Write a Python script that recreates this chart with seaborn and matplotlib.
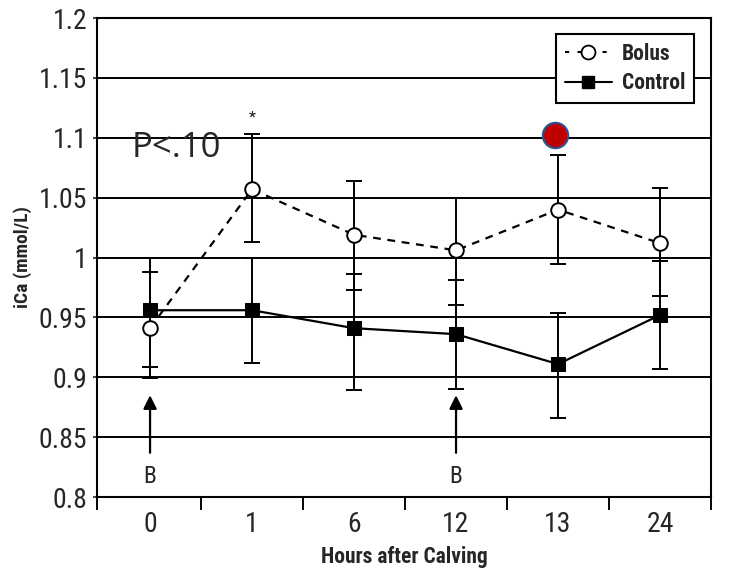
import matplotlib
matplotlib.use("Agg")
import matplotlib.pyplot as plt
from matplotlib.lines import Line2D
from matplotlib import font_manager
import seaborn as sns
import pandas as pd
import numpy as np

# ---- data ----
hours = ["0", "1", "6", "12", "13", "24"]
bolus_mean = [0.941, 1.057, 1.019, 1.006, 1.040, 1.012]
bolus_upper = [0.988, 1.103, 1.064, 1.050, 1.086, 1.058]
bolus_lower = [0.899, 1.013, 0.973, 0.960, 0.995, 0.968]
control_mean = [0.956, 0.956, 0.941, 0.936, 0.911, 0.952]
control_upper = [1.000, 1.000, 0.986, 0.981, 0.954, 0.997]
control_lower = [0.909, 0.912, 0.889, 0.890, 0.866, 0.907]
yticks = [0.8, 0.85, 0.9, 0.95, 1.0, 1.05, 1.1, 1.15, 1.2]
ytick_labels = ["0.8", "0.85", "0.9", "0.95", "1", "1.05", "1.1", "1.15", "1.2"]
bolus_hours = ["0", "12"]
star_hour = "1"
star_value = 1.117
red_hour = "13"
red_value = 1.102

sns.set_style("ticks")
installed = {f.name for f in font_manager.fontManager.ttflist}
cands = ["Liberation Sans Narrow", "DejaVu Sans Condensed", "Roboto Condensed",
         "Arial Narrow", "Roboto", "DejaVu Sans"]
NARROW = [c for c in cands if c in installed] or ["DejaVu Sans"]
plt.rcParams["font.family"] = NARROW + ["DejaVu Sans"]
narrow_is_real = NARROW[0] in ("Liberation Sans Narrow", "DejaVu Sans Condensed",
                               "Roboto Condensed", "Arial Narrow")
scale = 1.0 if narrow_is_real else 0.85

pos = np.arange(len(hours))
df = pd.DataFrame({
    "pos": np.concatenate([pos, pos]),
    "value": bolus_mean + control_mean,
    "group": ["Bolus"] * len(hours) + ["Control"] * len(hours),
})

fig = plt.figure(figsize=(7.3, 5.7), dpi=100)
ax = fig.add_axes([0.1329, 0.128, 0.974 - 0.1329, 0.9684 - 0.128])

for v in yticks[1:-1]:
    ax.axhline(v, color="black", lw=1.4, zorder=1)

ax.errorbar(pos, bolus_mean,
            yerr=[np.array(bolus_mean) - np.array(bolus_lower),
                  np.array(bolus_upper) - np.array(bolus_mean)],
            fmt="none", ecolor="black", elinewidth=1.4, capsize=5.5, capthick=1.4, zorder=2)
ax.errorbar(pos, control_mean,
            yerr=[np.array(control_mean) - np.array(control_lower),
                  np.array(control_upper) - np.array(control_mean)],
            fmt="none", ecolor="black", elinewidth=1.4, capsize=5.5, capthick=1.4, zorder=2)

sns.lineplot(data=df[df.group == "Control"], x="pos", y="value", ax=ax,
             color="black", lw=1.6, marker="s", markersize=9.5,
             markerfacecolor="black", markeredgecolor="black", zorder=3, legend=False)
sns.lineplot(data=df[df.group == "Bolus"], x="pos", y="value", ax=ax,
             color="black", lw=1.6, dashes=False, linestyle=(0, (3.5, 3)), marker="o", markersize=10.5,
             markerfacecolor="white", markeredgecolor="black", markeredgewidth=1.4,
             zorder=4, legend=False)

ri = hours.index(red_hour)
ax.scatter([ri - 0.03], [red_value], s=330, color="#c00000", edgecolor="#2f528f",
           linewidth=1.6, zorder=6)

ax.text(hours.index(star_hour), star_value, "*", ha="center", va="center",
        fontsize=11, fontweight="bold", zorder=6)

for h in bolus_hours:
    i = hours.index(h)
    ax.annotate("", xy=(i, 0.885), xytext=(i, 0.837),
                arrowprops=dict(arrowstyle="-|>", color="black", lw=1.6,
                                mutation_scale=20, shrinkA=0, shrinkB=0), zorder=5)
    ax.text(i, 0.8175, "B", ha="center", va="center", fontsize=17 * scale, zorder=5)

ax.text(-0.18, 1.084, "P<.10", fontsize=25, family=["Open Sans", "DejaVu Sans"],
        ha="left", va="baseline", zorder=5)

ax.set_xlim(-0.52, 5.5)
ax.set_ylim(0.8, 1.2)
ax.set_xticks(pos)
ax.set_xticklabels(hours, fontsize=20 * scale)
ax.tick_params(axis="x", which="major", length=0, pad=10)
ax.set_xticks([-0.52, 0.5, 1.5, 2.5, 3.5, 4.5, 5.5], minor=True)
ax.tick_params(axis="x", which="minor", length=9, width=1.4, direction="out", color="black")
ax.set_yticks(yticks)
ax.set_yticklabels(ytick_labels, fontsize=20 * scale)
ax.tick_params(axis="y", length=3, width=1.2, direction="out", pad=4)
for s in ax.spines.values():
    s.set_color("black")
    s.set_linewidth(1.5)
    s.set_visible(True)

ax.set_xlabel("Hours after Calving", fontsize=15.5 * scale, fontweight="bold", labelpad=6)
ax.set_ylabel("iCa (mmol/L)", fontsize=14 * scale, fontweight="bold", labelpad=5)

handles = [
    Line2D([], [], color="black", lw=1.5, linestyle=(0, (2, 4)), marker="o", markersize=10,
           markerfacecolor="white", markeredgecolor="black", markeredgewidth=1.3),
    Line2D([], [], color="black", lw=1.5, marker="s", markersize=9,
           markerfacecolor="black", markeredgecolor="black"),
]
leg = ax.legend(handles, ["Bolus", "Control"], loc="upper left",
                bbox_to_anchor=(0.7476, 0.9666), borderaxespad=0, frameon=True, fancybox=False,
                framealpha=1, edgecolor="black", prop={"weight": "bold", "size": 15.5 * scale},
                handlelength=2.2, handletextpad=0.45, borderpad=0.4, labelspacing=0.35)
leg.get_frame().set_linewidth(1.5)
leg.set_zorder(10)

fig.savefig("out.png", dpi=100)
